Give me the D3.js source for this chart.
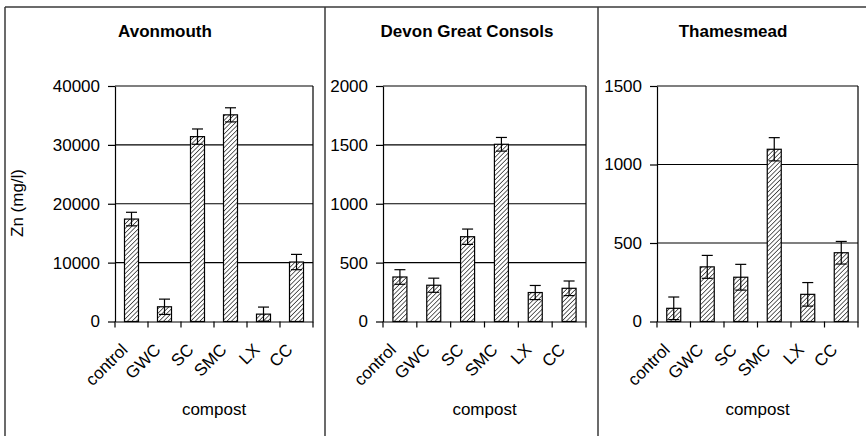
<!DOCTYPE html>
<html><head><meta charset="utf-8">
<script src="https://cdn.jsdelivr.net/npm/d3@7"></script>
<style>body{margin:0;background:#fff}svg{display:block}text{font-family:"Liberation Sans",Arial,sans-serif;fill:#000}</style>
</head><body>
<svg id="c" width="866" height="436"></svg>
<script>
const categories = ["control","GWC","SC","SMC","LX","CC"];
const panelTitles = ["Avonmouth","Devon Great Consols","Thamesmead"];
const avonmouthValues = [17400, 2500, 31400, 35100, 1250, 10100];
const avonmouthErrors = [1150, 1300, 1300, 1200, 1200, 1300];
const devonValues = [378, 308, 720, 1505, 246, 282];
const devonErrors = [62, 60, 65, 58, 60, 62];
const thamesValues = [84, 348, 282, 1097, 173, 438];
const thamesErrors = [72, 73, 82, 74, 75, 72];
const avonmouthTicks = [0, 10000, 20000, 30000, 40000];
const devonTicks = [0, 500, 1000, 1500, 2000];
const thamesTicks = [0, 500, 1000, 1500];
const yTitle = "Zn (mg/l)";
const xTitle = "compost";

const panels = [
  {title: panelTitles[0], values: avonmouthValues, errors: avonmouthErrors, ticks: avonmouthTicks, max: 40000, x0: 115, x1: 313, tx: 165, yTitle: true},
  {title: panelTitles[1], values: devonValues, errors: devonErrors, ticks: devonTicks, max: 2000, x0: 383, x1: 586, tx: 467, yTitle: false},
  {title: panelTitles[2], values: thamesValues, errors: thamesErrors, ticks: thamesTicks, max: 1500, x0: 657, x1: 858, tx: 733, yTitle: false}
];
const yTop = 86, yBot = 321.5;
const FS = 17;

const svg = d3.select("#c");
const defs = svg.append("defs");
const pat = defs.append("pattern").attr("id","hatch").attr("patternUnits","userSpaceOnUse")
  .attr("width",3.2).attr("height",3.2).attr("patternTransform","rotate(45)");
pat.append("rect").attr("width",3.2).attr("height",3.2).attr("fill","#fff");
pat.append("line").attr("x1",0).attr("y1",0).attr("x2",0).attr("y2",3.2)
  .attr("stroke","#222").attr("stroke-width",1.4);

const frame = svg.append("g").attr("stroke","#3a3a3a").attr("stroke-width",1.5).attr("fill","none");
frame.append("line").attr("x1",5).attr("x2",866).attr("y1",7).attr("y2",7);
frame.append("line").attr("x1",5).attr("x2",5).attr("y1",7).attr("y2",436);
frame.append("line").attr("x1",325).attr("x2",325).attr("y1",7).attr("y2",436);
frame.append("line").attr("x1",598).attr("x2",598).attr("y1",7).attr("y2",436);

panels.forEach(p => {
  const g = svg.append("g");
  const x = d3.scaleBand().domain(categories).range([p.x0, p.x1]).paddingInner(0).paddingOuter(0);
  const y = d3.scaleLinear().domain([0, p.max]).range([yBot, yTop]);
  const bw = 14;

  g.append("g").selectAll("line").data(p.ticks.filter(t => t > 0)).join("line")
    .attr("x1", p.x0).attr("x2", p.x1).attr("y1", d => y(d)).attr("y2", d => y(d))
    .attr("stroke","#000").attr("stroke-width",1.2);
  g.append("line").attr("x1",p.x1).attr("x2",p.x1).attr("y1",y(p.max)).attr("y2",yBot)
    .attr("stroke","#000").attr("stroke-width",1.2);

  g.append("g").selectAll("rect").data(p.values).join("rect")
    .attr("x", (d,i) => x(categories[i]) + x.bandwidth()/2 - bw/2)
    .attr("width", bw)
    .attr("y", d => y(d)).attr("height", d => yBot - y(d))
    .attr("fill","url(#hatch)").attr("stroke","#000").attr("stroke-width",1.2);

  const eb = g.append("g").attr("stroke","#000").attr("stroke-width",1.2);
  p.values.forEach((v,i) => {
    const cx = x(categories[i]) + x.bandwidth()/2;
    const lo = y(Math.max(0, v - p.errors[i])), hi = y(v + p.errors[i]);
    eb.append("line").attr("x1",cx).attr("x2",cx).attr("y1",lo).attr("y2",hi);
    eb.append("line").attr("x1",cx-5.5).attr("x2",cx+5.5).attr("y1",hi).attr("y2",hi);
    eb.append("line").attr("x1",cx-5.5).attr("x2",cx+5.5).attr("y1",lo).attr("y2",lo);
  });

  const ya = g.append("g").attr("transform",`translate(${p.x0},0)`)
    .call(d3.axisLeft(y).tickValues(p.ticks).tickFormat(d3.format("d")).tickSize(7).tickSizeOuter(0));
  ya.select(".domain").attr("stroke","#000").attr("stroke-width",1.2);
  ya.selectAll(".tick line").attr("stroke","#000").attr("stroke-width",1.2);
  ya.selectAll(".tick text").attr("font-size",FS).attr("x",-15)
    .attr("font-family","Liberation Sans, Arial, sans-serif").attr("fill","#000");

  const xa = g.append("g").attr("transform",`translate(0,${yBot})`)
    .call(d3.axisBottom(x).tickSize(0).tickSizeOuter(0));
  xa.select(".domain").attr("stroke","#000").attr("stroke-width",1.2);
  xa.selectAll(".tick text").remove();
  const bounds = categories.map(c => x(c)).concat([p.x1]);
  g.append("g").selectAll("line").data(bounds).join("line")
    .attr("x1", d => d).attr("x2", d => d).attr("y1", yBot).attr("y2", yBot + 6)
    .attr("stroke","#000").attr("stroke-width",1.2);
  g.append("g").selectAll("text").data(categories).join("text")
    .attr("transform", d => `translate(${x(d) + x.bandwidth()/2 - 7},${yBot + 25}) rotate(-45)`)
    .attr("text-anchor","end").attr("dy","0.35em").attr("font-size",FS).text(d => d);

  g.append("text").attr("x",p.tx).attr("y",37)
    .attr("text-anchor","middle").attr("font-weight","bold").attr("font-size",FS).text(p.title);
  g.append("text").attr("x",(p.x0+p.x1)/2).attr("y",415)
    .attr("text-anchor","middle").attr("font-size",FS).text(xTitle);
  if (p.yTitle) {
    g.append("text").attr("transform","translate(23,203) rotate(-90)")
      .attr("text-anchor","middle").attr("font-size",FS).text(yTitle);
  }
});
</script>
</body></html>
